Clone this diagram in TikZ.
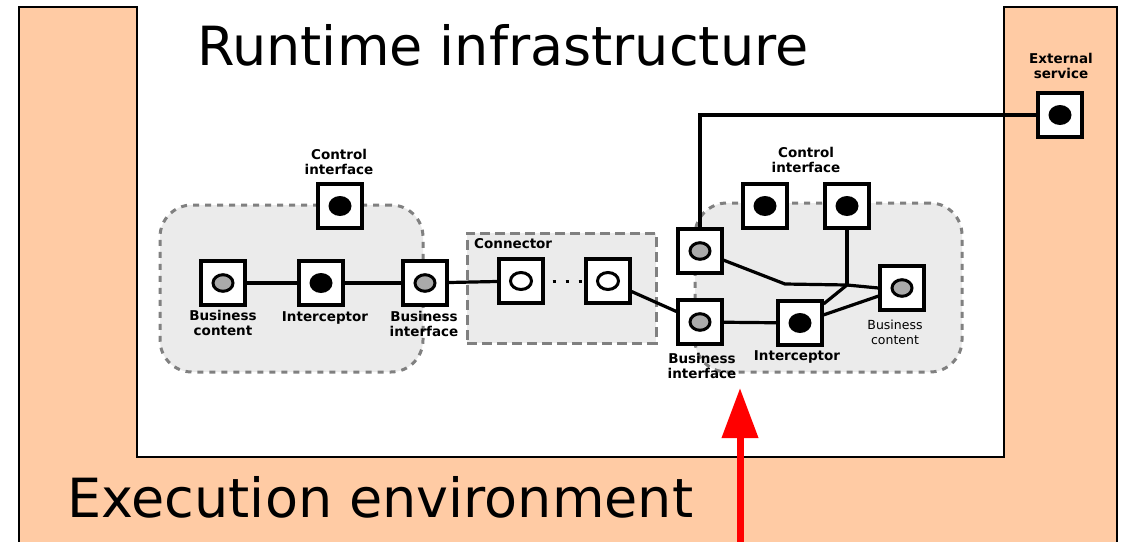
\documentclass[tikz,border=0pt]{standalone}
\usepackage{fontspec}
\setmainfont{DejaVu Sans}
\usetikzlibrary{arrows.meta}
\definecolor{peach}{RGB}{255,203,164}
\definecolor{boxgray}{RGB}{235,235,235}
\definecolor{dashgray}{RGB}{128,128,128}
\definecolor{midgray}{RGB}{170,170,170}
\pgfdeclarelayer{bg}
\pgfdeclarelayer{wires}
\pgfsetlayers{bg,wires,main}
\begin{document}
\begin{tikzpicture}[x=1pt,y=-1pt,
  sq/.style={draw=black, fill=white, line width=3.8pt, minimum size=43.5pt, inner sep=0pt},
  gsq/.style={sq, path picture={\draw[line width=3pt, fill=midgray] (path picture bounding box.center) ellipse [x radius=10pt, y radius=8.3pt];}},
  bsq/.style={sq, path picture={\fill[black] (path picture bounding box.center) ellipse [x radius=11.5pt, y radius=10pt];}},
  wsq/.style={sq, path picture={\draw[line width=3pt, fill=white] (path picture bounding box.center) ellipse [x radius=10.5pt, y radius=8.5pt];}},
  compbox/.style={draw=dashgray, fill=boxgray, line width=3pt, dash pattern=on 6pt off 6pt, rounded corners=32pt, inner sep=0pt},
  conbox/.style={draw=dashgray, fill=boxgray, line width=3pt, dash pattern=on 10pt off 5pt, inner sep=0pt},
  wire/.style={line width=3.2pt, draw=black},
  lab/.style={font=\bfseries\fontsize{13.5}{15}\selectfont, align=center, inner sep=0pt},
  rlab/.style={font=\fontsize{12.5}{15}\selectfont, align=center, inner sep=0pt},
  big/.style={font=\fontsize{54}{60}\selectfont, inner sep=0pt},
  redarrow/.style={draw=red, line width=7pt, -{Triangle[length=50pt, width=35pt]}}
]
\useasboundingbox (0,0) rectangle (1124,541);
\begin{pgfonlayer}{bg}
\fill[white] (0,0) rectangle (1124,541);
% execution environment shape
\fill[peach] (19,560) -- (19,7) -- (137,7) -- (137,457) -- (1004,457) -- (1004,7) -- (1117,7) -- (1117,560) -- cycle;
\draw[line width=2.5pt, line join=miter] (19,560) -- (19,7) -- (137,7) -- (137,457) -- (1004,457) -- (1004,7) -- (1117,7) -- (1117,560);
% containers
\node[compbox, minimum width=263pt, minimum height=167pt] (lcomp) at (291.5,288.5) {};
\node[conbox, minimum width=189pt, minimum height=110pt] (conn) at (561.5,288) {};
\node[compbox, minimum width=267pt, minimum height=169pt] (rcomp) at (828.5,287.5) {};
\end{pgfonlayer}

\node[big, anchor=base west] (rt) at (197,65) {Runtime infrastructure};
\node[big, anchor=base west] (ee) at (67,517) {Execution environment};

% junction coordinates
\coordinate (j1) at (785,284);
\coordinate (j2) at (847,285);
\coordinate (arrbot) at (740,560);
\coordinate (arrtop) at (740,388);

% left component
\node[bsq] (lci) at (340,206) {};
\node[gsq] (lbc) at (223,283) {};
\node[bsq] (lic) at (321,283) {};
\node[gsq] (lbi) at (425,283) {};
% connector
\node[wsq] (cn1) at (521,281) {};
\node[wsq] (cn2) at (608,281) {};
% right component
\node[bsq] (rci1) at (765,206) {};
\node[bsq] (rci2) at (847,206) {};
\node[gsq] (rbt) at (700,251) {};
\node[gsq] (rbi) at (700,322) {};
\node[bsq] (ric) at (800,323) {};
\node[gsq] (rbc) at (902,288) {};
% external service
\node[bsq] (es) at (1060,115) {};

% wires
\begin{pgfonlayer}{wires}
\draw[wire] (lbc) -- (lic);
\draw[wire] (lic) -- (lbi);
\draw[wire] (lbi) -- (cn1);
\draw[line width=3pt, dash pattern=on 3pt off 10pt, dash phase=5pt] (cn1.east) -- (cn2.west);
\draw[wire] (cn2) -- (rbi);
\draw[wire] (rbi) -- (ric);
\draw[wire] (rbt) -- (j1) -- (j2) -- (rbc.west);
\draw[wire] (rci2) -- (j2);
\draw[wire] (j2) -- (ric);
\draw[wire] (ric) -- (rbc);
\draw[wire] (rbt.north) |- (es.west);
\end{pgfonlayer}

% labels
\node[lab] (llci) at (339,162) {Control\\interface};
\node[lab] (llbc) at (223,323) {Business\\content};
\node[lab] (llic) at (325,318) {Interceptor};
\node[lab] (llbi) at (424,324) {Business\\interface};
\node[lab, anchor=base west] (lcon) at (474,248) {Connector};
\node[lab] (lrci) at (806,160) {Control\\interface};
\node[lab] (lrbi) at (702,366) {Business\\interface};
\node[lab] (lric) at (797,357) {Interceptor};
\node[rlab] (lrbc) at (895,332) {Business\\content};
\node[lab] (les) at (1061,66) {External\\service};

% red arrow
\draw[redarrow] (arrbot) -- (arrtop);
\end{tikzpicture}
\end{document}
